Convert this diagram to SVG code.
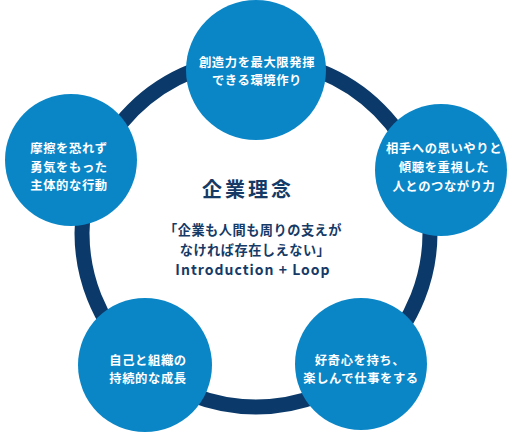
<svg xmlns="http://www.w3.org/2000/svg" width="512" height="437" viewBox="0 0 512 437">
<style>
.node{fill:#0a86c7}
.nt{fill:#ffffff;font-family:"Noto Sans CJK JP","Noto Sans",sans-serif;font-weight:700;font-size:12.3px;letter-spacing:0.6px;text-anchor:middle}
.ct{fill:#163a66;font-family:"Noto Sans CJK JP","Noto Sans",sans-serif;font-weight:700;text-anchor:middle}
</style>
<rect width="512" height="437" fill="#ffffff"/>
<g id="connectors">
<circle cx="256" cy="233" r="174" fill="none" stroke="#0b3a6a" stroke-width="15"/>
</g>
<g id="node-top">
<circle class="node" cx="256" cy="70" r="70"/>
<text class="nt" x="257" y="67">創造力を最大限発揮</text>
<text class="nt" x="257" y="85">できる環境作り</text>
</g>
<g id="node-left">
<circle class="node" cx="71" cy="160" r="66"/>
<text class="nt" x="69" y="153">摩擦を恐れず</text>
<text class="nt" x="69" y="172">勇気をもった</text>
<text class="nt" x="69" y="190">主体的な行動</text>
</g>
<g id="node-right">
<circle class="node" cx="441" cy="170" r="66"/>
<text class="nt" x="444" y="153">相手への思いやりと</text>
<text class="nt" x="444" y="172">傾聴を重視した</text>
<text class="nt" x="444" y="191">人とのつながり力</text>
</g>
<g id="node-bottom-left">
<circle class="node" cx="145" cy="365" r="67"/>
<text class="nt" x="148" y="365">自己と組織の</text>
<text class="nt" x="148" y="383">持続的な成長</text>
</g>
<g id="node-bottom-right">
<circle class="node" cx="361" cy="364" r="66"/>
<text class="nt" x="360" y="365">好奇心を持ち、</text>
<text class="nt" x="361" y="383">楽しんで仕事をする</text>
</g>
<g id="center">
<text class="ct" x="248" y="197" font-size="20" letter-spacing="3">企業理念</text>
<text class="ct" x="253" y="235" font-size="13.2" letter-spacing="0.5">「企業も人間も周りの支えが</text>
<text class="ct" x="255" y="255" font-size="13.2" letter-spacing="0.5">なければ存在しえない」</text>
<text class="ct" x="253" y="275" font-size="14" letter-spacing="1">Introduction + Loop</text>
</g>
</svg>
